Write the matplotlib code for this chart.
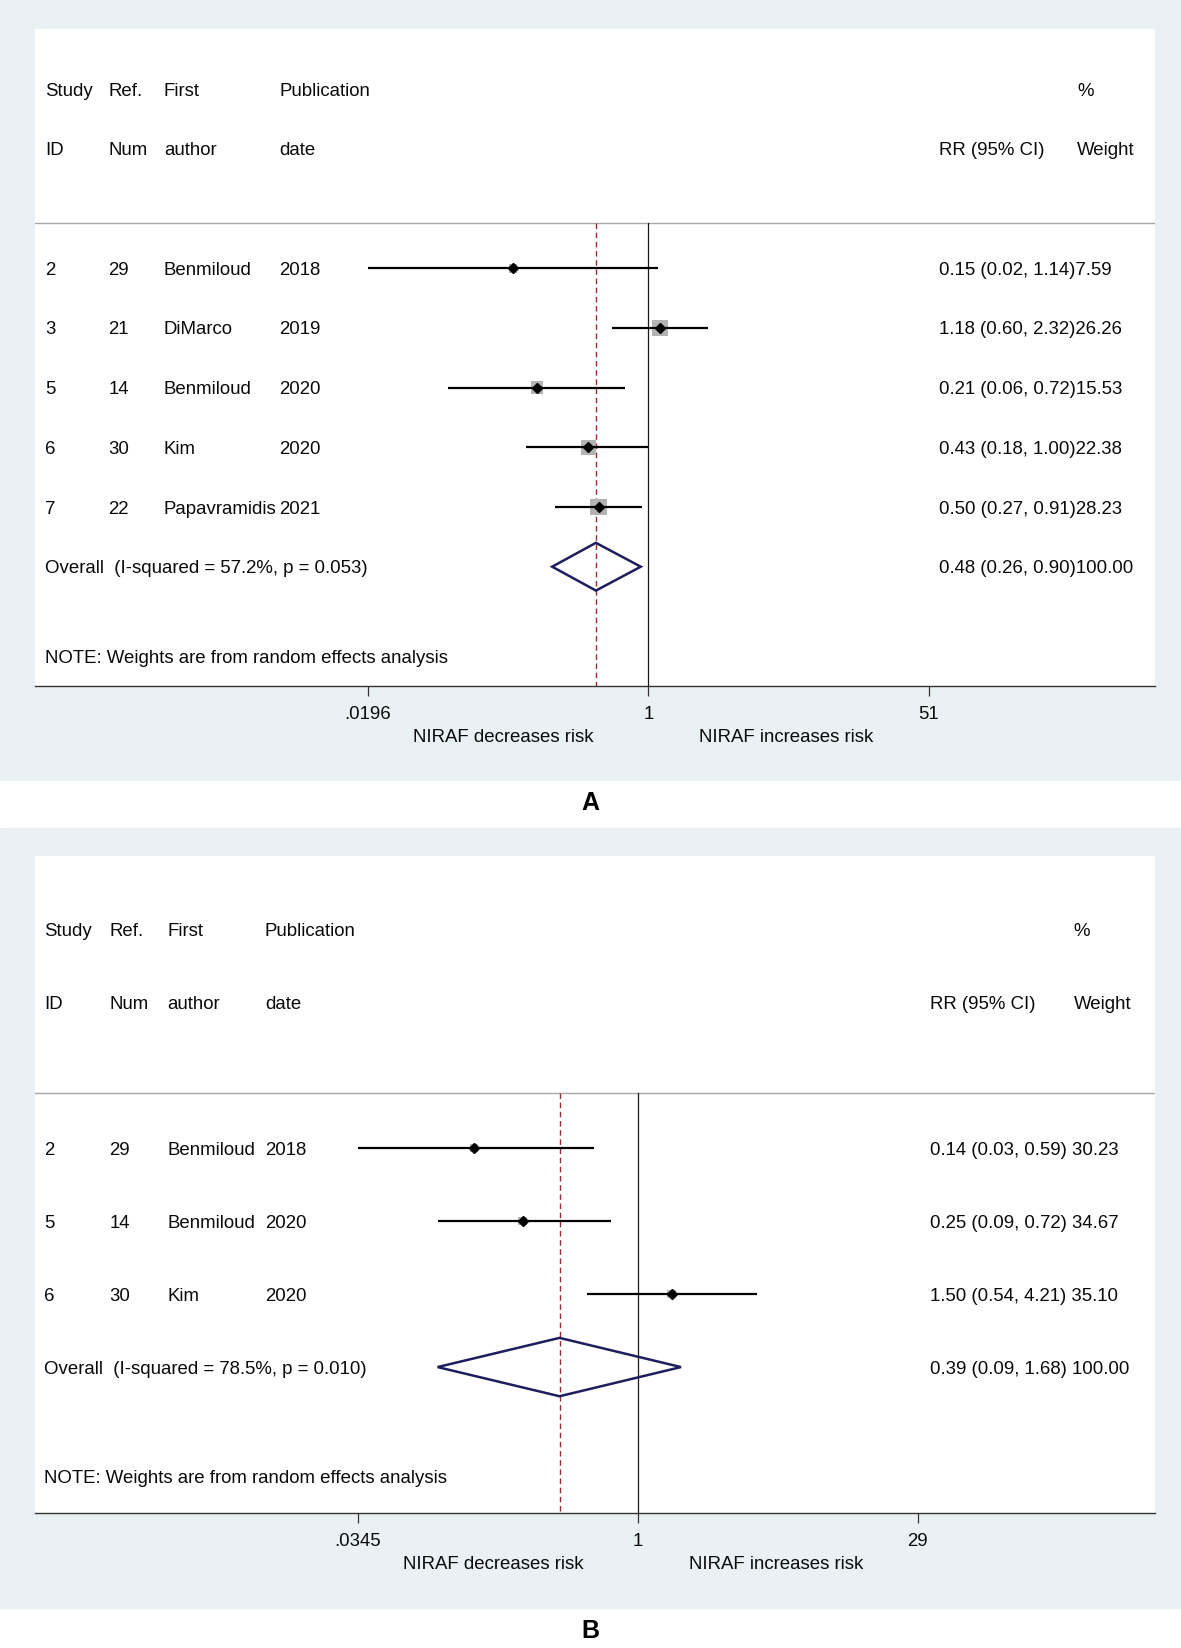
import numpy as np
import matplotlib
matplotlib.use("Agg")
import matplotlib.pyplot as plt
from matplotlib.patches import Rectangle, Polygon
from matplotlib.transforms import blended_transform_factory, offset_copy

plt.rcParams['font.family'] = ['Liberation Sans', 'DejaVu Sans']

# ---- panel A data ----
study_a = ['2', '3', '5', '6', '7']
ref_a = ['29', '21', '14', '30', '22']
author_a = ['Benmiloud', 'DiMarco', 'Benmiloud', 'Kim', 'Papavramidis']
year_a = ['2018', '2019', '2020', '2020', '2021']
rr_a = [0.15, 1.18, 0.21, 0.43, 0.50]
lo_a = [0.0196, 0.60, 0.06, 0.18, 0.27]
hi_a = [1.14, 2.32, 0.72, 1.00, 0.91]
wt_a = [7.59, 26.26, 15.53, 22.38, 28.23]
overall_a = [0.48, 0.26, 0.90]
het_a = 'Overall  (I-squared = 57.2%, p = 0.053)'
ticks_a = [0.0196, 1, 51]
ticklabels_a = ['.0196', '1', '51']

# ---- panel B data ----
study_b = ['2', '5', '6']
ref_b = ['29', '14', '30']
author_b = ['Benmiloud', 'Benmiloud', 'Kim']
year_b = ['2018', '2020', '2020']
rr_b = [0.14, 0.25, 1.50]
lo_b = [0.0345, 0.09, 0.54]
hi_b = [0.59, 0.72, 4.21]
wt_b = [30.23, 34.67, 35.10]
overall_b = [0.39, 0.09, 1.68]
het_b = 'Overall  (I-squared = 78.5%, p = 0.010)'
ticks_b = [0.0345, 1, 29]
ticklabels_b = ['.0345', '1', '29']

W, H = 1181, 1648
FS = 13.45
BLUE = '#eaf1f4'
TXT = '#0a0a0a'

fig = plt.figure(figsize=(W / 100, H / 100), dpi=100)


def fy(py):
    return 1 - py / H


def draw_panel(bg_top, bg_bot, ax_top, ax_bot, cols, xlim, data, label, label_y, box_k, wsep):
    study, ref, author, year, rr, lo, hi, wt, overall, het, ticks, ticklabels = data
    fig.patches.append(Rectangle((0, fy(bg_bot)), 1, (bg_bot - bg_top) / H,
                                 transform=fig.transFigure, color=BLUE, zorder=-10))
    left, right = 34.7, 1154.7
    ax = fig.add_axes([left / W, fy(ax_bot), (right - left) / W, (ax_bot - ax_top) / H])
    ax.set_zorder(5)
    ax.set_facecolor('white')
    n = len(rr)
    ax.set_xscale('log')
    ax.set_xlim(*xlim)
    ax.set_ylim(6 + n, 0)
    for s in ['top', 'left', 'right']:
        ax.spines[s].set_visible(False)
    ax.spines['bottom'].set_color('#333333')
    ax.spines['bottom'].set_linewidth(1.0)
    ax.set_yticks([])
    ax.set_xticks(ticks)
    ax.set_xticklabels([])
    ax.xaxis.set_minor_locator(matplotlib.ticker.NullLocator())
    ax.tick_params(axis='x', direction='out', length=7.5, width=0.9, color='#333333')

    tr = offset_copy(blended_transform_factory(ax.transAxes, ax.transData),
                     fig=fig, y=-2.1, units='dots')
    trx = blended_transform_factory(ax.transData, ax.transAxes)

    def cx(px):
        return (px - left) / (right - left)

    # header
    hdr1 = ['Study', 'Ref.', 'First', 'Publication']
    hdr2 = ['ID', 'Num', 'author', 'date']
    for i in range(4):
        ax.text(cx(cols[i]), 1, hdr1[i], transform=tr, va='center', fontsize=FS, color=TXT)
        ax.text(cx(cols[i]), 2, hdr2[i], transform=tr, va='center', fontsize=FS, color=TXT)
    ax.text(cx(cols[4]), 2, 'RR (95% CI)', transform=tr, va='center', fontsize=FS, color=TXT)
    ax.text(cx(cols[5]), 1, '%', transform=tr, va='center', fontsize=FS, color=TXT)
    ax.text(cx(cols[5]), 2, 'Weight', transform=tr, va='center', fontsize=FS, color=TXT)

    ax.axhline(3.25, color='#a8a8a8', lw=1.0)
    ax.plot([1, 1], [3.25, 6 + n], color='#1a1a1a', lw=0.9, zorder=2)
    ax.plot([overall[0], overall[0]], [3.25, 6 + n], color='#9e2a33', lw=1.0,
            dashes=(4, 2.6), zorder=3)

    ys = [4 + i for i in range(n)]
    for i, y in enumerate(ys):
        for j, val in enumerate([study[i], ref[i], author[i], year[i]]):
            ax.text(cx(cols[j]), y, val, transform=tr, va='center', fontsize=FS, color=TXT)
        lab = f'{rr[i]:.2f} ({lo[i]:.2f}, {hi[i]:.2f}){wsep}{wt[i]:.2f}'
        ax.text(cx(cols[4]), y, lab, transform=tr, va='center', fontsize=FS, color=TXT)
    side = [box_k * np.sqrt(w) * 0.72 for w in wt]
    ax.scatter(rr, ys, marker='s', s=[s ** 2 for s in side], color='#b3b3b3',
               edgecolors='none', zorder=4)
    ax.hlines(ys, lo, hi, color='black', lw=1.6, zorder=5)
    ax.plot(rr, ys, 'D', color='black', ms=4.8, zorder=6)

    yo = 4 + n
    ax.text(cx(cols[0]), yo, het, transform=tr, va='center', fontsize=FS, color=TXT)
    ax.text(cx(cols[4]), yo, f'{overall[0]:.2f} ({overall[1]:.2f}, {overall[2]:.2f}){wsep}100.00',
            transform=tr, va='center', fontsize=FS, color=TXT)
    est, olo, ohi = overall
    ax.add_patch(Polygon([(olo, yo), (est, yo - 0.4), (ohi, yo), (est, yo + 0.4)],
                         closed=True, fill=False, edgecolor='#1f1d5e', lw=1.8, zorder=6))
    ax.text(cx(cols[0]), 5.5 + n, 'NOTE: Weights are from random effects analysis',
            transform=tr, va='center', fontsize=FS, color=TXT)

    # tick labels and favour labels
    hpx = ax_bot - ax_top
    for t, tl in zip(ticks, ticklabels):
        ax.text(t, -28 / hpx, tl, transform=trx, ha='center', va='center',
                fontsize=FS, color=TXT)
    dec = offset_copy(trx, fig=fig, x=-4.7, units='dots')
    inc = offset_copy(trx, fig=fig, x=-2.1, units='dots')
    ax.text(np.sqrt(ticks[0]), -51.5 / hpx, 'NIRAF decreases risk', transform=dec,
            ha='center', va='center', fontsize=FS, color=TXT)
    ax.text(np.sqrt(ticks[2]), -51.5 / hpx, 'NIRAF increases risk', transform=inc,
            ha='center', va='center', fontsize=FS, color=TXT)

    fig.text(590.5 / W, fy(label_y), label, ha='center', va='center',
             fontsize=18, fontweight='bold', color='black')


draw_panel(0, 779.6, 29.4, 686.1,
           [45.2, 108.2, 163.9, 279.5, 939.3, 1077.0],
           (1.84e-4, 1210),
           (study_a, ref_a, author_a, year_a, rr_a, lo_a, hi_a, wt_a,
            overall_a, het_a, ticks_a, ticklabels_a),
           'A', 802.5, 3.14, '')

draw_panel(828.0, 1607.6, 856.3, 1513.0,
           [44.1, 109.3, 167.1, 264.8, 929.9, 1073.8],
           (7.08e-4, 500.6),
           (study_b, ref_b, author_b, year_b, rr_b, lo_b, hi_b, wt_b,
            overall_b, het_b, ticks_b, ticklabels_b),
           'B', 1631.5, 1.45, ' ')

fig.savefig('out.png', dpi=100, facecolor='white')
